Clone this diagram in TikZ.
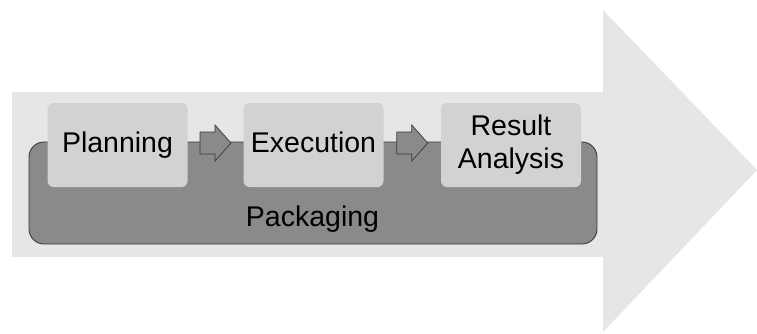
\documentclass[tikz,border=0pt]{standalone}
\usepackage{fontspec}
\setmainfont{Liberation Sans}
\usetikzlibrary{calc}
\definecolor{shaftgray}{HTML}{E6E6E6}
\definecolor{stepgray}{HTML}{D2D2D2}
\definecolor{packgray}{HTML}{8A8A8A}
\definecolor{edgegray}{HTML}{3A3A3A}
\tikzset{
  labelfont/.style={font=\fontsize{28.5}{33}\selectfont},
  stepbox/.style={rectangle, rounded corners=6pt, fill=stepgray, draw=none,
    minimum width=140pt, minimum height=84pt, inner sep=0pt, align=center,
    labelfont},
  oneline/.style={text height=20pt, text depth=6pt},
  packbox/.style={rectangle, rounded corners=15pt, fill=packgray, draw=edgegray,
    line width=0.9pt, minimum width=568pt, minimum height=102pt, inner sep=0pt},
  packtext/.style={labelfont, inner sep=0pt, anchor=base},
  blockarrow/.style={fill=packgray, draw=edgegray, line width=0.7pt, line join=miter},
}
\begin{document}
\begin{tikzpicture}[x=1pt, y=-1pt]
  \useasboundingbox (0,0) rectangle (757,333);
  % large background arrow
  \fill[shaftgray] (12,92) -- (603,92) -- (603,10) -- (757,170) -- (603,332)
    -- (603,257) -- (12,257) -- cycle;
  % packaging frame
  \node[packbox] (pack) at (313,193) {};
  \node[packtext] (packlabel) at (312.5,226) {Packaging};
  % process steps
  \node[stepbox, oneline] (plan) at (117.5,145) {Planning};
  \node[stepbox, oneline] (exec) at (313.5,145) {Execution};
  \node[stepbox] (result) at (511,145) {Result\\Analysis};
  % block arrows between the steps
  \foreach \a/\b in {plan/exec, exec/result} {
    \draw[blockarrow] let \p1 = ($(\a.east)!0.5!(\b.west)$) in
      (\x1-15.5, 143-11) -- ++(15,0) -- ++(0,-7) -- ++(16,18) -- ++(-16,18)
      -- ++(0,-7) -- ++(-15,0) -- cycle;
  }
\end{tikzpicture}
\end{document}
